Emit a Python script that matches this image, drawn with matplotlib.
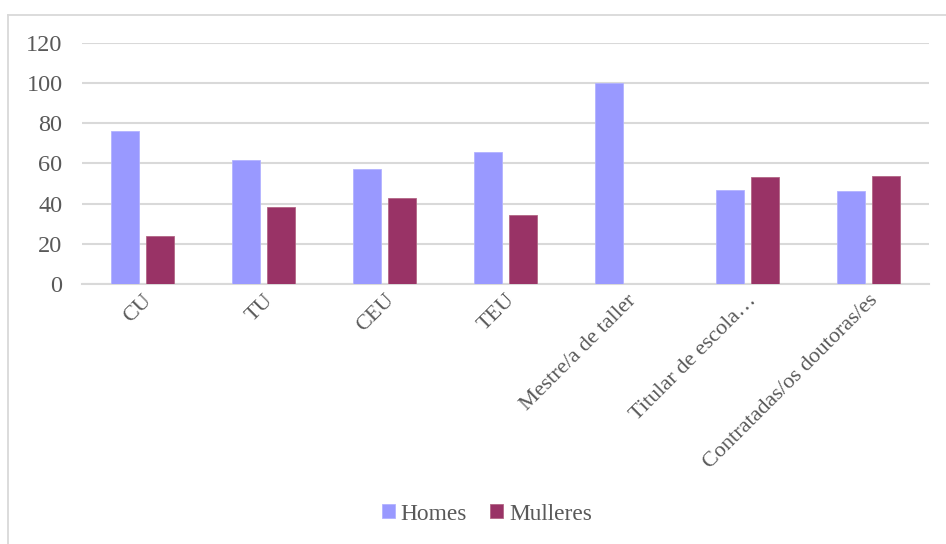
import numpy as np
import matplotlib.pyplot as plt
from matplotlib.lines import Line2D

categories = ['CU', 'TU', 'CEU', 'TEU', 'Mestre/a de taller',
              'Titular de escola…', 'Contratadas/os doutoras/es']
homes = [76.3, 61.7, 57.3, 65.8, 100.0, 46.7, 46.3]
mulleres = [23.7, 38.3, 42.7, 34.2, 0.0, 53.3, 53.7]

plt.rcParams['font.family'] = ['Liberation Serif', 'DejaVu Serif']

fig = plt.figure(figsize=(9.46, 5.44), dpi=100)
ax = fig.add_axes([0.0867, 0.478, 0.8953, 0.443])

x = np.arange(len(categories))
w = 0.225
ax.bar(x - 0.145, homes, w, color='#9999FF', edgecolor='#B3B3FF', linewidth=0.6, label='Homes', zorder=3)
ax.bar(x + 0.145, mulleres, w, color='#993366', edgecolor='#B36685', linewidth=0.6, label='Mulleres', zorder=3)

ax.set_xlim(-0.5, len(categories) - 0.5)
ax.set_ylim(0, 120)
ax.set_yticks(range(0, 121, 20))
ax.yaxis.grid(True, color='#D9D9D9', linewidth=1.5, zorder=0)
for s in ['top', 'right', 'left']:
    ax.spines[s].set_visible(False)
ax.spines['bottom'].set_color('#D9D9D9')
ax.spines['bottom'].set_linewidth(1.5)
ax.tick_params(axis='y', length=0, pad=14, labelsize=17.5, labelcolor='#595959')
ax.tick_params(axis='x', length=0, pad=5, labelsize=16, labelcolor='#595959')
ax.set_xticks(x)
ax.set_xticklabels(categories, rotation=45, ha='right', va='top', rotation_mode='anchor')

# outer chart frame
fig.add_artist(Line2D([7.5 / 946, 1], [1 - 14.5 / 544, 1 - 14.5 / 544],
                      transform=fig.transFigure, color='#D9D9D9', linewidth=1.3))
fig.add_artist(Line2D([7.5 / 946, 7.5 / 946], [0, 1 - 14.5 / 544],
                      transform=fig.transFigure, color='#D9D9D9', linewidth=1.3))

leg = fig.legend(loc='center', bbox_to_anchor=(487 / 946, 1 - 514 / 544), ncol=2,
                 frameon=False, fontsize=16.8, handlelength=0.55, handleheight=0.55,
                 handletextpad=0.25, columnspacing=1.0)
for t in leg.get_texts():
    t.set_color('#595959')

fig.savefig('out.png', dpi=100)
